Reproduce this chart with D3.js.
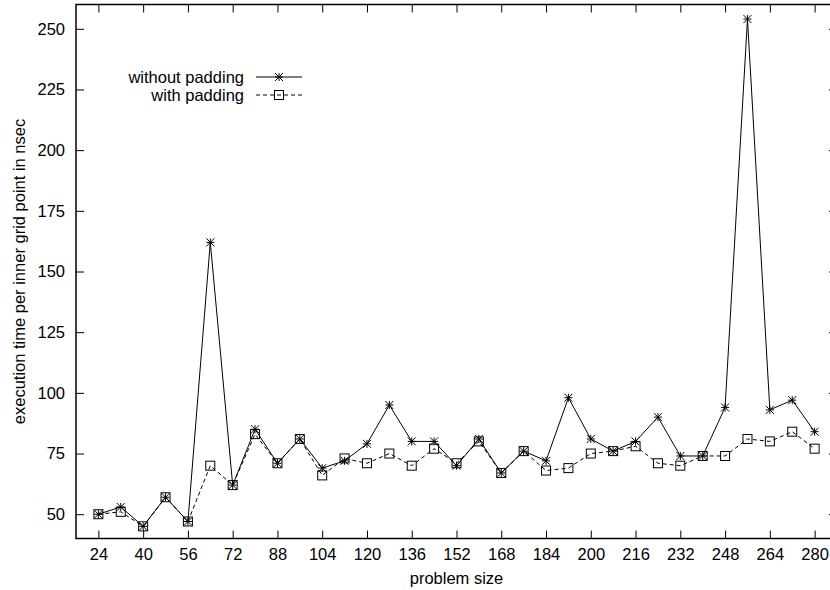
<!DOCTYPE html>
<html><head><meta charset="utf-8">
<script src="https://cdn.jsdelivr.net/npm/d3@7"></script>
<style>body{margin:0;background:#fff}svg{display:block}text{font-family:"Liberation Sans",Arial,sans-serif;fill:#000}</style>
</head><body><svg id="c" width="830" height="590"></svg>
<script>
const sizes = [24,32,40,48,56,64,72,80,88,96,104,112,120,128,136,144,152,160,168,176,184,192,200,208,216,224,232,240,248,256,264,272,280];
const withoutPadding = [50,53,45,57,47,162,62,85,71,81,69,72,79,95,80,80,70,81,67,76,72,98,81,76,80,90,74,74,94,254,93,97,84];
const withPadding = [50,51,45,57,47,70,62,83,71,81,66,73,71,75,70,77,71,80,67,76,68,69,75,76,78,71,70,74,74,81,80,84,77];
const xTicks = [24,40,56,72,88,104,120,136,152,168,184,200,216,232,248,264,280];
const yTicks = [50,75,100,125,150,175,200,225,250];
const seriesNames = ["without padding","with padding"];

const FS = 16.5;
const svg = d3.select("#c");
const L=76, R=837, T=4.5, B=538.5;
const x = d3.scaleLinear().domain([16,288]).range([L,R]);
const y = d3.scaleLinear().domain([40,260]).range([B,T]);
const tl = 8;

// frame
svg.append("rect").attr("x",L).attr("y",T).attr("width",R-L).attr("height",B-T)
  .attr("fill","none").attr("stroke","#000").attr("stroke-width",1.5);

// axes with inward ticks
const gB = svg.append("g").attr("transform",`translate(0,${B})`)
  .call(d3.axisBottom(x).tickValues(xTicks).tickSizeInner(-tl).tickSizeOuter(0).tickPadding(10));
const gT = svg.append("g").attr("transform",`translate(0,${T})`)
  .call(d3.axisTop(x).tickValues(xTicks).tickSizeInner(-tl).tickSizeOuter(0).tickFormat(""));
const gL = svg.append("g").attr("transform",`translate(${L},0)`)
  .call(d3.axisLeft(y).tickValues(yTicks).tickSizeInner(-tl).tickSizeOuter(0).tickPadding(11));
const gR = svg.append("g").attr("transform",`translate(${R},0)`)
  .call(d3.axisRight(y).tickValues(yTicks).tickSizeInner(-tl).tickSizeOuter(0).tickFormat(""));
[gB,gT,gL,gR].forEach(g=>{
  g.select(".domain").remove();
  g.selectAll(".tick line").attr("stroke","#000").attr("stroke-width",1);
  g.selectAll(".tick text").attr("font-size",FS).attr("font-family","Liberation Sans, Arial, sans-serif").attr("fill","#000");
});
gB.selectAll(".tick text").attr("dy","0.71em");

// labels
svg.append("text").attr("x",(L+R)/2).attr("y",584).attr("text-anchor","middle").attr("font-size",FS).text("problem size");
svg.append("text").attr("transform",`translate(25,${(T+B)/2}) rotate(-90)`).attr("text-anchor","middle").attr("font-size",FS).text("execution time per inner grid point in nsec");

// markers
function star(g,cx,cy){
  const s=4;
  g.append("path").attr("d",`M${cx-s},${cy}H${cx+s}M${cx},${cy-s}V${cy+s}M${cx-s},${cy-s}L${cx+s},${cy+s}M${cx-s},${cy+s}L${cx+s},${cy-s}`)
   .attr("stroke","#000").attr("stroke-width",1).attr("fill","none");
}
function square(g,cx,cy){
  const s=4.5;
  g.append("rect").attr("x",cx-s).attr("y",cy-s).attr("width",2*s).attr("height",2*s)
   .attr("stroke","#000").attr("stroke-width",1).attr("fill","none");
}

const line = d3.line().x(d=>x(d[0])).y(d=>y(d[1]));
const d1 = sizes.map((s,i)=>[s,withoutPadding[i]]);
const d2 = sizes.map((s,i)=>[s,withPadding[i]]);

const g1 = svg.append("g");
g1.append("path").attr("d",line(d1)).attr("fill","none").attr("stroke","#000").attr("stroke-width",1);
d1.forEach(d=>star(g1,x(d[0]),y(d[1])));
const g2 = svg.append("g");
g2.append("path").attr("d",line(d2)).attr("fill","none").attr("stroke","#000").attr("stroke-width",1).attr("stroke-dasharray","4,3");
d2.forEach(d=>square(g2,x(d[0]),y(d[1])));

// legend
const legY=[77,95];
seriesNames.forEach((n,i)=>{
  svg.append("text").attr("x",244).attr("y",legY[i]).attr("dy","0.35em").attr("text-anchor","end").attr("font-size",FS).text(n);
  const lg = svg.append("g");
  lg.append("line").attr("x1",256).attr("x2",302).attr("y1",legY[i]).attr("y2",legY[i]).attr("stroke","#000").attr("stroke-width",1)
    .attr("stroke-dasharray",i===1?"4,3":null);
  if(i===0) star(lg,279,legY[i]); else square(lg,279,legY[i]);
});
</script></body></html>
